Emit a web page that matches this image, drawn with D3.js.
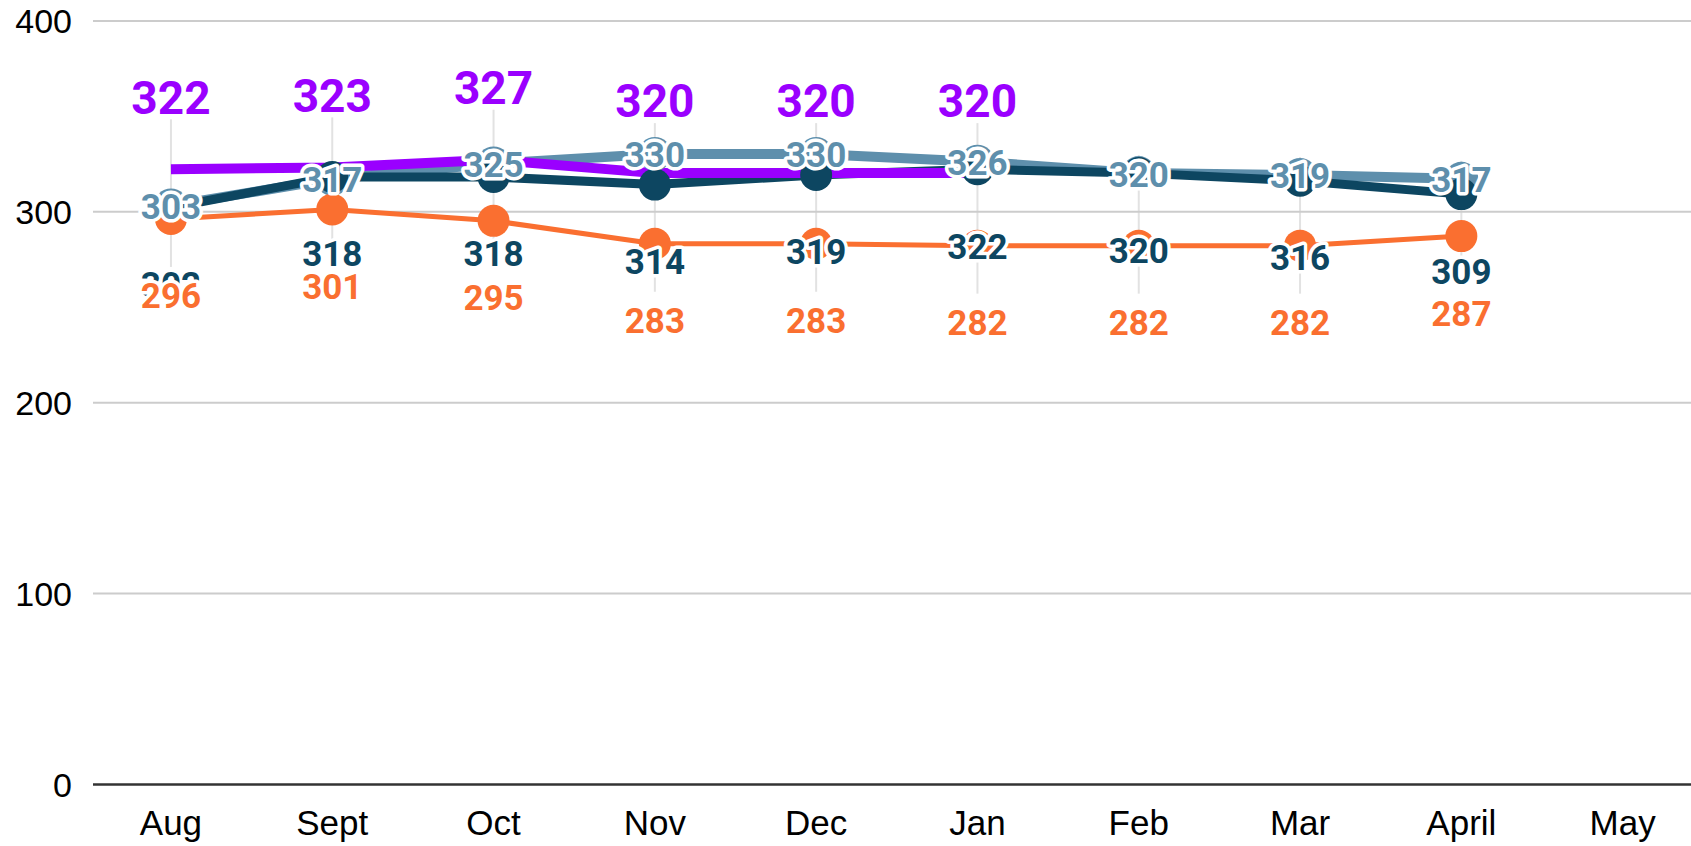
<!DOCTYPE html>
<html>
<head>
<meta charset="utf-8">
<script src="https://cdn.jsdelivr.net/npm/d3@7"></script>
<style>
  html, body { margin: 0; padding: 0; background: #fff; }
  svg { display: block; }
</style>
</head>
<body>
<div id="chart"></div>
<script>
// month categories and the four series
var months = ["Aug", "Sept", "Oct", "Nov", "Dec", "Jan", "Feb", "Mar", "April", "May"];
var purpleVals = [322, 323, 327, 320, 320, 320, null, null, null, null];
var steelVals  = [303, 317, 325, 330, 330, 326, 320, 319, 317, null];
var navyVals   = [302, 318, 318, 314, 319, 322, 320, 316, 309, null];
var orangeVals = [296, 301, 295, 283, 283, 282, 282, 282, 287, null];
var yTicks = [0, 100, 200, 300, 400];

var width = 1691, height = 846,
    gridLeft = 93;

var svg = d3.select("#chart")
    .append("svg")
        .attr("width", width)
        .attr("height", height);

var x = d3.scaleBand()
    .domain(months)
    .range([90.3, 1703.3]);
var cx = m => x(m) + x.bandwidth() / 2;

var y = d3.scaleLinear()
    .domain([0, 400])
    .range([784, 20.4]);

// light vertical leader lines at each month
var leaders = months.map((m, i) => ({ m: m, i: i })).filter(d => orangeVals[d.i] != null);
svg.append("g").selectAll("line")
    .data(leaders)
  .enter().append("line")
    .attr("x1", d => cx(d.m))
    .attr("x2", d => cx(d.m))
    .attr("y1", d => purpleVals[d.i] != null ? y(purpleVals[d.i]) - 50 : y(steelVals[d.i]) - 18)
    .attr("y2", d => y(orangeVals[d.i]) + 48)
    .style("stroke", "#e2e2e2")
    .style("stroke-width", 2);

// horizontal gridlines
var grid = svg.append("g")
    .attr("transform", `translate(${gridLeft},0)`)
    .call(d3.axisLeft(y).tickValues(yTicks).tickSize(-(width - gridLeft)).tickFormat(""));
grid.select(".domain").remove();
grid.selectAll(".tick line")
    .style("stroke", d => d === 0 ? "#333" : "#cccccc")
    .style("stroke-width", d => d === 0 ? 2.5 : 2);

// y tick labels
var yAxis = svg.append("g")
    .attr("transform", "translate(72,0)")
    .call(d3.axisLeft(y).tickValues(yTicks).tickSize(0).tickPadding(0));
yAxis.select(".domain").remove();
yAxis.selectAll("text")
    .attr("dy", "0.36em")
    .style("font-family", "'Liberation Sans', Arial, sans-serif")
    .style("font-size", "34px")
    .style("fill", "#000");

// x labels
var xAxis = svg.append("g")
    .attr("transform", "translate(0,784)")
    .call(d3.axisBottom(x).tickSize(0).tickPadding(26));
xAxis.select(".domain").remove();
xAxis.selectAll("text")
    .style("font-family", "'Liberation Sans', Arial, sans-serif")
    .style("font-size", "35px")
    .style("fill", "#000");

function series(vals) {
    return vals.map((v, i) => ({ m: months[i], v: v }));
}
var line = d3.line()
    .defined(d => d.v != null)
    .x(d => cx(d.m))
    .y(d => y(d.v));

var steel = { data: series(steelVals), color: "#5e8fac", width: 10 },
    navy = { data: series(navyVals), color: "#0d4661", width: 9 },
    purple = { data: series(purpleVals), color: "#9a00ff", width: 10 },
    orange = { data: series(orangeVals), color: "#fa6f30", width: 5 };

[steel, navy, purple, orange].forEach(s => {
    svg.append("path")
        .datum(s.data)
        .attr("d", line)
        .style("fill", "none")
        .style("stroke", s.color)
        .style("stroke-width", s.width)
        .style("stroke-linejoin", "round");
});

function dots(s, r) {
    svg.append("g").selectAll("circle")
        .data(s.data.filter(d => d.v != null))
      .enter().append("circle")
        .attr("cx", d => cx(d.m))
        .attr("cy", d => y(d.v))
        .attr("r", r)
        .style("fill", s.color);
}
dots(steel, 17);
dots(navy, 16);
dots(orange, 16);

function labels(s, size, offset) {
    svg.append("g").selectAll("text")
        .data(s.data.filter(d => d.v != null))
      .enter().append("text")
        .attr("x", d => cx(d.m))
        .attr("y", d => y(d.v) + offset)
        .attr("dy", "0.355em")
        .attr("text-anchor", "middle")
        .style("font-family", "Roboto, 'Noto Sans', sans-serif")
        .style("font-weight", "bold")
        .style("font-size", size + "px")
        .style("fill", s.color)
        .style("stroke", "#fff")
        .style("stroke-width", 7)
        .style("stroke-linejoin", "round")
        .style("paint-order", "stroke")
        .text(d => d.v);
}
labels(navy, 35, 77);
labels(orange, 35, 77);
labels(steel, 35, 1);
labels(purple, 46, -72);
</script>
</body>
</html>
